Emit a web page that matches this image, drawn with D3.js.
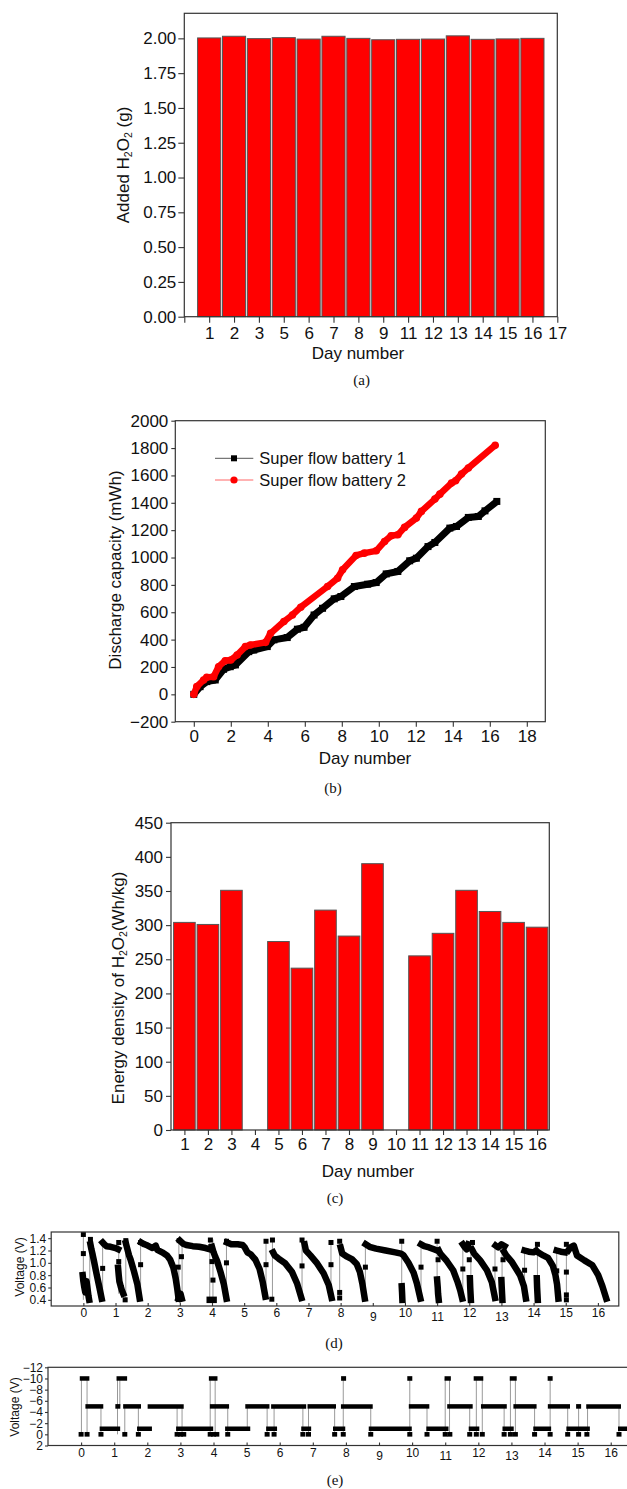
<!DOCTYPE html>
<html><head><meta charset="utf-8">
<script src="https://cdn.jsdelivr.net/npm/d3@7"></script>
<style>body{margin:0;background:#fff}svg{display:block}</style>
</head><body>
<svg id="c" width="627" height="1489"></svg>
<script>
// ---------------- DATA ----------------
// (a)
const aCategories = ["1","2","3","5","6","7","8","9","11","12","13","14","15","16"];
const aValues = [2.003, 2.015, 1.998, 2.005, 1.995, 2.015, 2.0, 1.99, 1.993, 1.995, 2.018, 1.993, 1.996, 2.0];
const aYTicks = [0, 0.25, 0.5, 0.75, 1.0, 1.25, 1.5, 1.75, 2.0];
const aLastTickLabel = "17";

// (b)
const bSeriesNames = ["Super flow battery 1", "Super flow battery 2"];
const b1X = [0,0.34,0.7,1.16,1.61,1.97,2.25,2.97,3.24,3.97,4.33,5.05,5.6,5.96,6.5,6.96,7.59,7.95,8.68,9.4,9.86,10.4,11.03,11.67,12.03,12.66,13.03,13.84,14.2,14.84,15.38,15.74,16.38];
const b1Y = [0,56,93,105,183,202,215,312,324,349,398,415,476,490,580,629,698,715,788,805,817,880,898,976,995,1080,1110,1215,1227,1293,1300,1341,1410];
const b2X = [0,0.16,0.53,0.7,1.07,1.34,1.7,2.0,2.34,2.79,3.06,3.88,4.15,4.87,5.33,5.78,7.23,7.77,8.04,8.77,9.22,9.86,10.31,10.67,11.03,11.39,12.03,12.3,13.03,13.3,13.93,14.15,14.47,14.84,16.29];
const b2Y = [0,56,105,124,129,202,246,251,288,349,361,380,446,532,580,637,788,849,910,1015,1032,1049,1117,1159,1166,1220,1288,1337,1427,1463,1544,1561,1610,1654,1820];
const bXTicks = [0,2,4,6,8,10,12,14,16,18];
const bYTicks = [-200,0,200,400,600,800,1000,1200,1400,1600,1800,2000];

// (c)
const cDays = [1,2,3,4,5,6,7,8,9,10,11,12,13,14,15,16];
const cValues = [304,301,351,null,276,237,322,284,390,null,255,288,351,320,304,297];
const cYTicks = [0,50,100,150,200,250,300,350,400,450];

// (d) voltage curves: dense discharge segments, isolated points, vertical jumps
const dCurves = [
  [[-0.02,0.8],[0.0,0.7],[0.03,0.6],[0.06,0.52],[0.1,0.7],[0.13,0.58],[0.16,0.46],[0.18,0.4]],
  [[0.22,1.3],[0.25,1.22],[0.29,1.13],[0.33,1.03],[0.41,0.82],[0.5,0.6],[0.57,0.42]],
  [[0.6,1.33],[0.65,1.3],[0.72,1.27],[0.85,1.26],[1.0,1.24],[1.08,1.22]],
  [[1.08,0.92],[1.1,0.8],[1.12,0.7],[1.16,0.62],[1.2,0.55],[1.24,0.5]],
  [[1.32,1.32],[1.37,1.22],[1.42,1.12],[1.47,1.05],[1.57,0.87],[1.68,0.65],[1.75,0.42]],
  [[1.8,1.33],[1.9,1.3],[2.0,1.28],[2.15,1.24],[2.25,1.28],[2.3,1.21],[2.45,1.17],[2.6,1.12],[2.7,1.05],[2.8,0.92],[2.87,0.75],[2.92,0.58],[2.96,0.42]],
  [[2.96,0.42],[3.02,0.5],[3.06,0.42]],
  [[3.0,1.36],[3.1,1.31],[3.2,1.29],[3.4,1.27],[3.6,1.26],[3.8,1.24],[3.93,1.22]],
  [[4.0,1.26],[4.05,1.17],[4.1,1.1],[4.16,1.03],[4.26,0.86],[4.37,0.65],[4.45,0.42]],
  [[3.93,0.4],[4.05,0.4]],
  [[4.47,1.33],[4.6,1.3],[4.8,1.3],[4.95,1.29],[5.02,1.25],[5.1,1.17],[5.2,1.14],[5.35,1.05],[5.48,0.9],[5.58,0.68],[5.66,0.45]],
  [[5.9,1.17],[5.95,1.12],[6.07,1.07],[6.28,0.99],[6.49,0.85],[6.65,0.66],[6.78,0.43]],
  [[6.88,1.3],[6.92,1.2],[7.06,1.12],[7.27,0.99],[7.47,0.83],[7.63,0.64],[7.72,0.43]],
  [[8.0,1.25],[8.05,1.15],[8.2,1.1],[8.35,1.06],[8.5,0.98],[8.6,0.85],[8.68,0.65],[8.75,0.42]],
  [[8.78,1.3],[8.9,1.26],[9.1,1.23],[9.4,1.2],[9.7,1.17],[9.88,1.15],[9.96,1.12],[10.11,1.0],[10.27,0.84],[10.37,0.67],[10.48,0.42]],
  [[9.9,0.62],[9.91,0.52],[9.92,0.4]],
  [[10.5,1.3],[10.6,1.27],[10.75,1.25],[10.9,1.22],[11.0,1.2]],
  [[11.0,0.73],[11.02,0.6],[11.03,0.5],[11.05,0.4]],
  [[11.05,1.2],[11.1,1.15],[11.3,1.03],[11.5,0.88],[11.63,0.7],[11.72,0.55],[11.78,0.42]],
  [[11.8,1.3],[11.85,1.26],[11.92,1.22],[11.97,1.3]],
  [[12.02,0.75],[12.03,0.6],[12.04,0.5],[12.05,0.4]],
  [[12.08,1.22],[12.15,1.15],[12.34,1.04],[12.55,0.88],[12.7,0.69],[12.8,0.43]],
  [[12.82,1.28],[12.9,1.25],[13.0,1.3],[13.1,1.27]],
  [[13.0,0.72],[13.01,0.6],[13.02,0.5],[13.03,0.4]],
  [[13.08,1.18],[13.15,1.12],[13.33,1.01],[13.58,0.8],[13.7,0.62],[13.76,0.42]],
  [[13.72,1.2],[13.85,1.18],[14.0,1.17],[14.08,1.2]],
  [[14.1,0.75],[14.11,0.6],[14.12,0.5],[14.13,0.4]],
  [[14.14,1.17],[14.3,1.12],[14.45,1.08],[14.6,0.95],[14.68,0.8],[14.73,0.65],[14.77,0.42]],
  [[14.72,1.2],[14.85,1.18],[14.97,1.17]],
  [[15.08,1.2],[15.15,1.25],[15.25,1.28],[15.3,1.2],[15.35,1.12],[15.58,1.04],[15.83,0.96],[16.01,0.8],[16.14,0.62],[16.26,0.42]]
];
const dDots = [[0.0,1.46],[0.0,1.15],[0.22,1.38],[0.6,0.91],[1.1,1.33],[1.1,1.02],[1.3,0.4],[1.32,1.36],[1.78,0.97],[1.78,1.33],[2.95,0.93],[3.05,1.1],[2.98,1.36],[3.95,1.37],[4.0,1.02],[4.03,0.72],[4.45,1.0],[4.45,1.35],[5.68,0.97],[5.68,1.35],[5.86,0.41],[5.88,1.37],[6.8,0.95],[6.8,1.37],[7.7,0.97],[7.7,1.33],[7.97,0.52],[7.97,0.43],[7.97,1.35],[8.77,0.93],[9.9,1.35],[10.5,0.93],[11.0,1.35],[11.03,1.05],[11.8,0.9],[12.0,1.05],[12.1,1.33],[12.8,0.9],[13.05,1.05],[13.72,0.88],[14.12,1.3],[14.72,0.87],[15.02,1.3],[15.02,0.85],[15.02,0.48],[15.02,0.4]];
const dLinks = [[0.0,1.46,0.4],[0.2,0.42,1.38],[0.6,0.42,1.33],[1.1,1.33,0.5],[1.32,0.4,1.36],[1.78,0.42,1.33],[2.97,0.42,1.36],[3.07,0.45,1.33],[3.93,1.38,0.4],[4.03,1.38,0.4],[4.45,0.42,1.35],[5.68,0.45,1.35],[5.88,0.41,1.37],[6.8,0.43,1.37],[7.7,0.43,1.33],[7.97,0.43,1.35],[8.77,0.42,1.3],[9.9,1.35,0.4],[10.5,0.42,1.3],[11.0,1.35,0.4],[11.8,0.42,1.3],[12.05,1.33,0.4],[12.8,0.43,1.28],[13.02,1.3,0.4],[13.72,0.42,1.2],[14.12,1.3,0.4],[14.72,0.42,1.2],[15.02,1.3,0.4]];
const dXTicks = [0,1,2,3,4,5,6,7,8,9,10,11,12,13,14,15,16];
const dYTicks = [0.4,0.6,0.8,1.0,1.2,1.4];

// (e) applied voltage levels: [start day, end day, level]
const eBars = [
  [-0.04,0.25,-10],[1.07,1.39,-10],[3.86,4.12,-10],[10.98,11.17,-10],[11.86,12.15,-10],[12.95,13.16,-10],
  [0.13,0.67,-5],[1.27,1.81,-5],[2.01,3.1,-5],[3.89,4.47,-5],[4.96,5.69,-5],[5.74,6.8,-5],[6.84,7.7,-5],[7.85,8.81,-5],[9.9,10.52,-5],[11.06,11.83,-5],[12.08,12.86,-5],[13.06,13.76,-5],[14.1,14.77,-5],[15.26,16.31,-5],
  [0.56,1.18,-1],[1.69,2.14,-1],[2.87,3.99,-1],[4.35,5.11,-1],[5.59,5.92,-1],[6.65,6.95,-1],[7.61,7.98,-1],[8.69,9.99,-1],[10.43,11.1,-1],[11.71,12.03,-1],[12.73,13.07,-1],[13.66,14.2,-1],[14.66,15.37,-1],[16.22,16.8,-1]
];
const eDots = [[7.93,-10],[9.93,-10],[14.17,-10],[1.11,-5],[15.03,-5],
  [0.0,0],[0.18,0],[0.6,0],[1.32,0],[1.73,0],[2.9,0],[3.0,0],[3.1,0],[3.9,0],[4.0,0],[4.1,0],[4.43,0],[5.62,0],[5.83,0],[6.7,0],[6.87,0],[7.66,0],[7.92,0],[8.75,0],[9.93,0],[10.45,0],[11.0,0],[11.14,0],[11.74,0],[11.94,0],[12.12,0],[12.78,0],[12.97,0],[13.12,0],[13.7,0],[14.17,0],[14.7,0],[15.03,0],[15.28,0],[16.25,0]];
const eLinks = [[0.01,-10,0],[0.18,-10,0],[0.6,-5,0],[1.1,-10,0],[1.17,-10,-5],[1.32,-5,0],[1.73,-5,0],[2.9,-5,0],[3.05,-5,0],[3.9,-10,0],[4.05,-10,0],[4.43,-5,0],[5.02,-5,-1],[5.62,-5,0],[5.83,-5,0],[6.7,-5,0],[6.87,-5,0],[7.66,-5,0],[7.92,-10,0],[8.75,-5,0],[9.93,-10,0],[10.45,-5,0],[11.0,-10,0],[11.13,-10,0],[11.74,-5,0],[11.94,-10,0],[12.12,-10,0],[12.78,-5,0],[12.97,-10,0],[13.12,-10,0],[13.7,-5,0],[14.17,-10,0],[14.7,-5,0],[15.03,-5,0],[15.3,-5,0],[16.25,-5,0]];
const eXTicks = [0,1,2,3,4,5,6,7,8,9,10,11,12,13,14,15,16];
const eYTicks = [-12,-10,-8,-6,-4,-2,0,2];

// ---------------- RENDER ----------------
const FONT = "Arial, 'Liberation Sans', Helvetica, sans-serif";
const SERIF = "'Times New Roman', 'Liberation Serif', serif";
const svg = d3.select("#c");

function frame(g, x, y) {
  const [x0, x1] = x.range(), [y0, y1] = y.range();
  g.append("rect").attr("x", Math.min(x0,x1)).attr("y", Math.min(y0,y1))
    .attr("width", Math.abs(x1-x0)).attr("height", Math.abs(y1-y0))
    .attr("fill","none").attr("stroke","#333").attr("stroke-width",1.2);
}
function styleAxis(sel, fs) {
  sel.select(".domain").remove();
  sel.selectAll(".tick line").attr("stroke","#333").attr("stroke-width",1.1);
  sel.selectAll(".tick text").attr("font-family",FONT).attr("font-size",fs).attr("fill","#111");
}
function rotLabel(g, cx, cy, parts, fs) {
  const t = g.append("text").attr("transform",`translate(${cx},${cy}) rotate(-90)`)
    .attr("text-anchor","middle").attr("dominant-baseline","central")
    .attr("font-family",FONT).attr("font-size",fs).attr("fill","#111");
  let sub = false;
  parts.forEach(([txt, isSub]) => {
    const ts = t.append("tspan").text(txt);
    if (isSub && !sub) ts.attr("dy", fs*0.3).attr("font-size", fs*0.62);
    else if (isSub) ts.attr("font-size", fs*0.62);
    else if (!isSub && sub) ts.attr("dy", -fs*0.3);
    sub = isSub;
  });
}
function text(g, x, y, s, fs, fam) {
  g.append("text").attr("x",x).attr("y",y).attr("text-anchor","middle").attr("dominant-baseline","central")
    .attr("font-family",fam||FONT).attr("font-size",fs).attr("fill","#111").text(s);
}

// ===== (a) =====
{
  const g = svg.append("g");
  const x = d3.scaleLinear().domain([0,15]).range([184.3,557.3]);
  const y = d3.scaleLinear().domain([0,2.18]).range([316.7,13.3]);
  const bw = (x(1)-x(0))*0.93;
  g.selectAll("rect.bar").data(aValues).join("rect").attr("class","bar")
    .attr("x",(d,i)=>x(i+1)-bw/2).attr("width",bw)
    .attr("y",d=>y(d)).attr("height",d=>y(0)-y(d))
    .attr("fill","#ff0000").attr("stroke","#555").attr("stroke-width",1);
  frame(g,x,y);
  const labels = ["", ...aCategories, aLastTickLabel];
  g.append("g").attr("transform",`translate(0,${y(0)})`)
    .call(d3.axisBottom(x).tickValues(d3.range(0,16)).tickSize(6).tickPadding(4).tickFormat(i=>labels[i]))
    .call(s=>styleAxis(s,17));
  g.append("g").attr("transform",`translate(${x(0)},0)`)
    .call(d3.axisLeft(y).tickValues(aYTicks).tickSize(6).tickPadding(2).tickFormat(d3.format(".2f")))
    .call(s=>styleAxis(s,17));
  rotLabel(g,122.7,165,[["Added H",0],["2",1],["O",0],["2",1],[" (g)",0]],17);
  text(g,358,353,"Day number",17);
  text(g,361.7,380,"(a)",15,SERIF);
}

// ===== (b) =====
{
  const g = svg.append("g");
  const x = d3.scaleLinear().domain([-1,19]).range([175.3,545.3]);
  const y = d3.scaleLinear().domain([-200,2000]).range([721.7,420.7]);
  frame(g,x,y);
  g.append("g").attr("transform",`translate(0,${y(-200)})`)
    .call(d3.axisBottom(x).tickValues(bXTicks).tickSize(5).tickPadding(3).tickFormat(d3.format("d")))
    .call(s=>styleAxis(s,17));
  g.append("g").attr("transform",`translate(${x(-1)},0)`)
    .call(d3.axisLeft(y).tickValues(bYTicks).tickSize(4).tickPadding(3).tickFormat(d3.format("d")))
    .call(s=>styleAxis(s,17));
  const s1 = b1X.map((v,i)=>[v,b1Y[i]]);
  const s2 = b2X.map((v,i)=>[v,b2Y[i]]);
  const line = d3.line().x(d=>x(d[0])).y(d=>y(d[1]));
  g.append("path").attr("d",line(s1)).attr("fill","none").attr("stroke","#000").attr("stroke-width",7).attr("stroke-linejoin","round");
  g.selectAll("rect.m1").data(s1).join("rect").attr("class","m1")
    .attr("x",d=>x(d[0])-3.5).attr("y",d=>y(d[1])-3.5).attr("width",7).attr("height",7).attr("fill","#000");
  g.append("path").attr("d",line(s2)).attr("fill","none").attr("stroke","#ff0000").attr("stroke-width",6.5).attr("stroke-linejoin","round").attr("stroke-linecap","round");
  g.selectAll("circle.m2").data(s2).join("circle").attr("class","m2")
    .attr("cx",d=>x(d[0])).attr("cy",d=>y(d[1])).attr("r",3.8).attr("fill","#ff0000");
  // legend
  const leg = [[458.3,"#000","#555","sq"],[480,"#ff0000","#ff6666","ci"]];
  leg.forEach(([ly,c,lc,m],i)=>{
    g.append("line").attr("x1",215).attr("x2",253.3).attr("y1",ly).attr("y2",ly).attr("stroke",lc).attr("stroke-width",1);
    if (m==="sq") g.append("rect").attr("x",234-3).attr("y",ly-3).attr("width",6).attr("height",6).attr("fill",c);
    else g.append("circle").attr("cx",234).attr("cy",ly).attr("r",3.6).attr("fill",c);
    g.append("text").attr("x",259.3).attr("y",ly).attr("dominant-baseline","central")
      .attr("font-family",FONT).attr("font-size",16.5).attr("fill","#111").text(bSeriesNames[i]);
  });
  rotLabel(g,115,570,[["Discharge capacity (mWh)",0]],17);
  text(g,365,758.3,"Day number",17);
  text(g,333,788.3,"(b)",15,SERIF);
}

// ===== (c) =====
{
  const g = svg.append("g");
  const x = d3.scaleLinear().domain([0.43,16.52]).range([171,549.3]);
  const y = d3.scaleLinear().domain([0,450]).range([1130,822.7]);
  const bw = (x(2)-x(1))*0.92;
  const data = cDays.map((d,i)=>({d, v:cValues[i]})).filter(o=>o.v!=null);
  g.selectAll("rect.bar").data(data).join("rect").attr("class","bar")
    .attr("x",o=>x(o.d)-bw/2).attr("width",bw)
    .attr("y",o=>y(o.v)).attr("height",o=>y(0)-y(o.v))
    .attr("fill","#ff0000").attr("stroke","#555").attr("stroke-width",1);
  frame(g,x,y);
  g.append("g").attr("transform",`translate(0,${y(0)})`)
    .call(d3.axisBottom(x).tickValues(cDays).tickSize(5).tickPadding(3).tickFormat(d3.format("d")))
    .call(s=>styleAxis(s,17));
  g.append("g").attr("transform",`translate(${x.range()[0]},0)`)
    .call(d3.axisLeft(y).tickValues(cYTicks).tickSize(5).tickPadding(3).tickFormat(d3.format("d")))
    .call(s=>styleAxis(s,17));
  rotLabel(g,118.3,988,[["Energy density of H",0],["2",1],["O",0],["2",1],["(Wh/kg)",0]],17);
  text(g,368,1171.7,"Day number",17);
  text(g,335,1198,"(c)",15,SERIF);
}

// ===== (d) =====
const lowered = new Set([9,11,13]);
{
  const g = svg.append("g");
  const x = d3.scaleLinear().domain([-1,16.65]).range([51.2,618.8]);
  const y = d3.scaleLinear().domain([0.3,1.5]).range([1306,1232]);
  const line = d3.line().x(d=>x(d[0])).y(d=>y(d[1]));
  g.selectAll("line.lk").data(dLinks).join("line").attr("class","lk")
    .attr("x1",d=>x(d[0])).attr("x2",d=>x(d[0])).attr("y1",d=>y(d[1])).attr("y2",d=>y(d[2]))
    .attr("stroke","#999").attr("stroke-width",1);
  g.selectAll("path.cv").data(dCurves).join("path").attr("class","cv")
    .attr("d",line).attr("fill","none").attr("stroke","#000").attr("stroke-width",6.5)
    .attr("stroke-linejoin","round").attr("stroke-linecap","square");
  g.selectAll("rect.dt").data(dDots).join("rect").attr("class","dt")
    .attr("x",d=>x(d[0])-2.5).attr("y",d=>y(d[1])-2.5).attr("width",5).attr("height",5).attr("fill","#000");
  frame(g,x,y);
  const ax = g.append("g").attr("transform",`translate(0,${y(0.3)})`)
    .call(d3.axisBottom(x).tickValues(dXTicks).tickSize(-3).tickPadding(2.5).tickFormat(d3.format("d")))
    .call(s=>styleAxis(s,12));
  ax.selectAll(".tick text").attr("dy",d=>lowered.has(d)?"1.0em":"0.71em");
  g.append("g").attr("transform",`translate(${x(-1)},0)`)
    .call(d3.axisLeft(y).tickValues(dYTicks).tickSize(3).tickPadding(2).tickFormat(d3.format(".1f")))
    .call(s=>styleAxis(s,12));
  rotLabel(g,20,1267,[["Voltage (V)",0]],12);
  text(g,334,1343,"(d)",15,SERIF);
}

// ===== (e) =====
{
  const g = svg.append("g");
  const x = d3.scaleLinear().domain([-1,16.8]).range([48,637.2]);
  const y = d3.scaleLinear().domain([-12,2]).range([1367.3,1445.5]);
  g.selectAll("line.lk").data(eLinks).join("line").attr("class","lk")
    .attr("x1",d=>x(d[0])).attr("x2",d=>x(d[0])).attr("y1",d=>y(d[1])).attr("y2",d=>y(d[2]))
    .attr("stroke","#999").attr("stroke-width",1);
  g.selectAll("line.br").data(eBars).join("line").attr("class","br")
    .attr("x1",d=>x(d[0])).attr("x2",d=>x(d[1])).attr("y1",d=>y(d[2])).attr("y2",d=>y(d[2]))
    .attr("stroke","#000").attr("stroke-width",4.5);
  g.selectAll("rect.dt").data(eDots).join("rect").attr("class","dt")
    .attr("x",d=>x(d[0])-2.5).attr("y",d=>y(d[1])-2.3).attr("width",5).attr("height",4.6).attr("fill","#000");
  frame(g,x,y);
  const ax = g.append("g").attr("transform",`translate(0,${y(2)})`)
    .call(d3.axisBottom(x).tickValues(eXTicks).tickSize(-3).tickPadding(2.5).tickFormat(d3.format("d")))
    .call(s=>styleAxis(s,12));
  ax.selectAll(".tick text").attr("dy",d=>lowered.has(d)?"1.0em":"0.71em");
  g.append("g").attr("transform",`translate(${x(-1)},0)`)
    .call(d3.axisLeft(y).tickValues(eYTicks).tickSize(3).tickPadding(2).tickFormat(d3.format("d")))
    .call(s=>styleAxis(s,12));
  rotLabel(g,15,1407,[["Voltage (V)",0]],12);
  text(g,335,1480,"(e)",15,SERIF);
}
</script>
</body></html>
